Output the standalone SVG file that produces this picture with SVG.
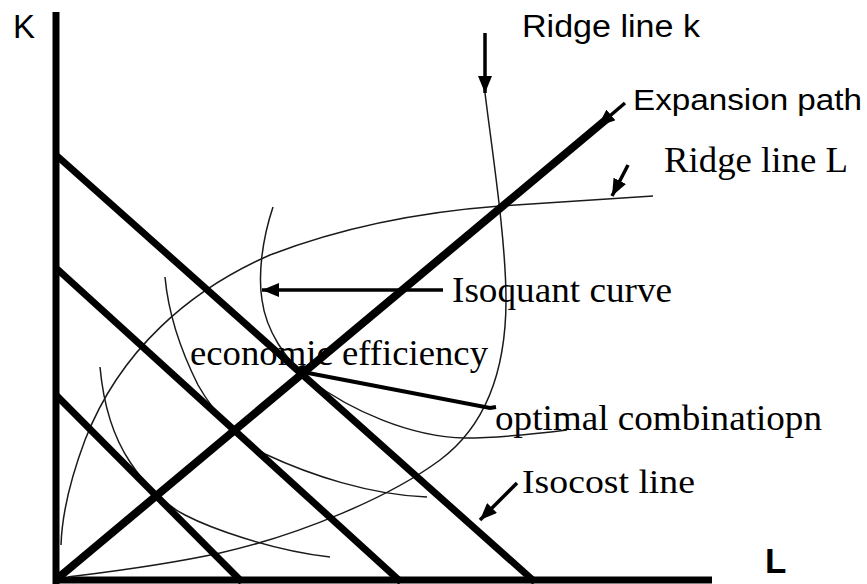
<svg xmlns="http://www.w3.org/2000/svg" width="867" height="584" viewBox="0 0 867 584">
<style>
.sans{font-family:"Liberation Sans",Arial,sans-serif;fill:#000}
.serif{font-family:"Liberation Serif","Times New Roman",serif;fill:#000}
.thin{fill:none;stroke:#1a1a1a;stroke-width:1.5}
.thick{stroke:#000;stroke-linecap:butt;fill:none}
.arr{stroke:#000;stroke-width:3.5;fill:none;marker-end:url(#ah)}
</style>
<defs>
<marker id="ah" markerUnits="userSpaceOnUse" markerWidth="18" markerHeight="14" refX="17" refY="7" orient="auto">
<path d="M0,0 L17,7 L0,14 z" fill="#000"/>
</marker>
</defs>
<rect width="867" height="584" fill="#fff"/>
<g id="axes">
<line class="thick" x1="56" y1="12" x2="56" y2="584" stroke-width="7"/>
<line class="thick" x1="53" y1="580" x2="712" y2="580" stroke-width="7"/>
</g>
<g id="isoquants">
<path class="thin" d="M273,207 C262,240 258,275 262,300 C266,330 285,360 310,380 C350,410 410,437 465,438 C500,438 535,434 567,430"/>
<path class="thin" d="M165,277 C168,310 178,345 198,385 C215,415 240,440 265,454 C310,475 370,495 427,497"/>
<path class="thin" d="M100,367 C103,400 112,435 130,462 C145,485 165,505 185,515 C210,528 270,550 330,557"/>
</g>
<g id="ridge-lines">
<path class="thin" d="M485,93 C492,150 506,240 506,300 C506,380 480,430 440,460 C390,497 300,535 220,553 C160,566 100,573 68,577"/>
<path class="thin" d="M653,196 L500,206 C420,212 340,228 270,255 C190,290 120,350 85,440 C70,480 62,515 61,545"/>
</g>
<g id="isocost-lines">
<line class="thick" x1="56" y1="155" x2="535" y2="582" stroke-width="7"/>
<line class="thick" x1="56" y1="268" x2="401" y2="582" stroke-width="7"/>
<line class="thick" x1="56" y1="395" x2="242" y2="582" stroke-width="7"/>
</g>
<g id="expansion-path">
<line class="thick" x1="58" y1="578" x2="608" y2="118" stroke-width="8"/>
</g>
<g id="optimal-point">
<circle cx="303" cy="371" r="6" fill="#000"/>
</g>
<g id="connectors">
<line class="arr" x1="485" y1="33" x2="485" y2="93"/>
<line class="arr" x1="628" y1="165" x2="612" y2="196"/>
<line class="arr" x1="625" y1="103" x2="598" y2="126"/>
<line class="arr" x1="443" y1="290" x2="262" y2="290"/>
<line class="arr" x1="517" y1="483" x2="480" y2="520"/>
<polyline points="303,372 490,408 496,407" fill="none" stroke="#000" stroke-width="4"/>
</g>
<g id="labels">
<text class="sans" x="13" y="38" font-size="33">K</text>
<text class="sans" x="765" y="573" font-size="35" font-weight="bold">L</text>
<text class="sans" x="522" y="37" font-size="31" textLength="178" lengthAdjust="spacingAndGlyphs">Ridge line k</text>
<text class="sans" x="633" y="110" font-size="30" textLength="229" lengthAdjust="spacingAndGlyphs">Expansion path</text>
<text class="serif" x="664" y="172" font-size="36" textLength="184" lengthAdjust="spacingAndGlyphs">Ridge line L</text>
<text class="serif" x="452" y="302" font-size="36" textLength="220" lengthAdjust="spacingAndGlyphs">Isoquant curve</text>
<text class="serif" x="190" y="365" font-size="36" textLength="298" lengthAdjust="spacingAndGlyphs">economic efficiency</text>
<text class="serif" x="495" y="430" font-size="36" textLength="327" lengthAdjust="spacingAndGlyphs">optimal combinatiopn</text>
<text class="serif" x="522" y="493" font-size="34" textLength="173" lengthAdjust="spacingAndGlyphs">Isocost line</text>
</g>
</svg>
